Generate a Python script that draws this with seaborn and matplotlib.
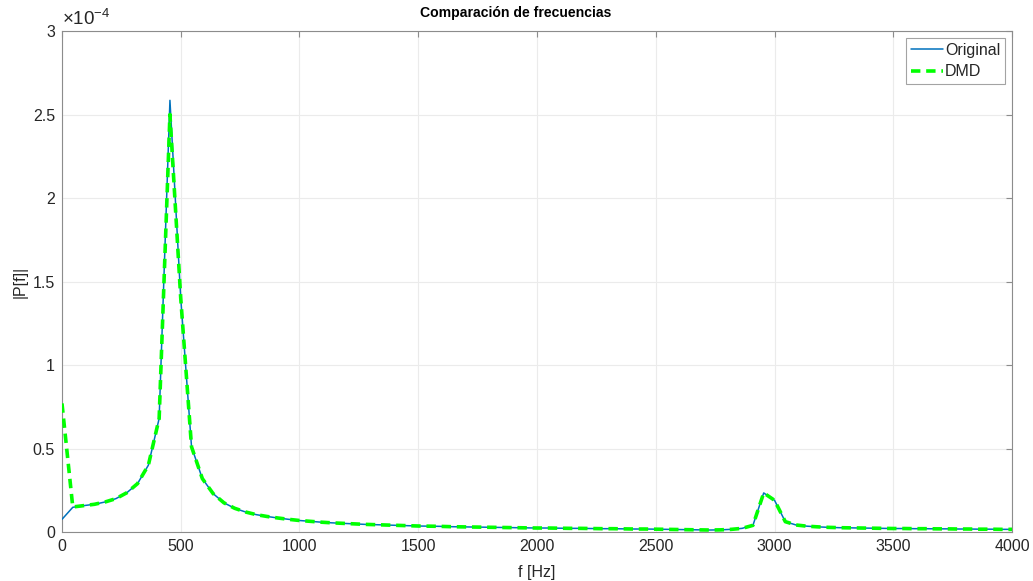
import numpy as np
import pandas as pd
import matplotlib
matplotlib.use("Agg")
import matplotlib.pyplot as plt
from matplotlib.ticker import FuncFormatter, MultipleLocator
import seaborn as sns

# Frequency grid of the spectrum (uniform bins from 0 to 4000 Hz)
freq_hz = np.linspace(0, 4000, 89)

# |P(f)| of the original signal, in units of 1e-4
original = [
    0.076, 0.148, 0.158, 0.166, 0.180, 0.200, 0.235, 0.290, 0.400, 0.680,
    2.585, 1.400, 0.510, 0.320, 0.230, 0.175, 0.142, 0.120, 0.104, 0.093,
    0.084, 0.076, 0.069, 0.064, 0.059, 0.055, 0.052, 0.049, 0.046, 0.044,
    0.042, 0.040, 0.038, 0.036, 0.035, 0.034, 0.032, 0.031, 0.030, 0.029,
    0.028, 0.027, 0.026, 0.025, 0.024, 0.024, 0.023, 0.022, 0.022, 0.021,
    0.020, 0.020, 0.019, 0.018, 0.018, 0.017, 0.016, 0.015, 0.014, 0.013,
    0.012, 0.013, 0.016, 0.022, 0.040, 0.234, 0.190, 0.062, 0.042, 0.035,
    0.031, 0.028, 0.026, 0.025, 0.024, 0.023, 0.022, 0.021, 0.021, 0.020,
    0.020, 0.019, 0.019, 0.018, 0.018, 0.017, 0.017, 0.016, 0.016,
]

# |P(f)| reconstructed with DMD, in units of 1e-4
dmd = [
    0.770, 0.150, 0.158, 0.166, 0.180, 0.200, 0.235, 0.290, 0.400, 0.680,
    2.500, 1.400, 0.510, 0.320, 0.230, 0.175, 0.142, 0.120, 0.104, 0.093,
    0.084, 0.076, 0.069, 0.064, 0.059, 0.055, 0.052, 0.049, 0.046, 0.044,
    0.042, 0.040, 0.038, 0.036, 0.035, 0.034, 0.032, 0.031, 0.030, 0.029,
    0.028, 0.027, 0.026, 0.025, 0.024, 0.024, 0.023, 0.022, 0.022, 0.021,
    0.020, 0.020, 0.019, 0.018, 0.018, 0.017, 0.016, 0.015, 0.014, 0.013,
    0.012, 0.013, 0.016, 0.022, 0.040, 0.234, 0.190, 0.062, 0.042, 0.035,
    0.031, 0.028, 0.026, 0.025, 0.024, 0.023, 0.022, 0.021, 0.021, 0.020,
    0.020, 0.019, 0.019, 0.018, 0.018, 0.017, 0.017, 0.016, 0.016,
]

series_names = ["Original", "DMD"]
SCALE = 1e-4
DASH = (0, (2.6, 1.6))

df = pd.concat([
    pd.DataFrame({"f": freq_hz, "P": np.array(original) * SCALE, "serie": series_names[0]}),
    pd.DataFrame({"f": freq_hz, "P": np.array(dmd) * SCALE, "serie": series_names[1]}),
], ignore_index=True)

sns.set_style("whitegrid")
plt.rcParams["font.family"] = ["Liberation Sans", "DejaVu Sans"]
plt.rcParams["mathtext.default"] = "regular"

fig = plt.figure(figsize=(10.33, 5.81), dpi=100)
ax = fig.add_axes([0.060, 0.0843, 0.9197, 0.8623])

palette = {"Original": "#0072BD", "DMD": "#00FF00"}
sns.lineplot(data=df[df.serie == "Original"], x="f", y="P", ax=ax,
             color=palette["Original"], lw=1.1, label="Original", zorder=3)
sns.lineplot(data=df[df.serie == "DMD"], x="f", y="P", ax=ax,
             color=palette["DMD"], lw=2.6, label="DMD", zorder=4)
for ln in ax.lines:
    if ln.get_label() == "DMD":
        ln.set_linestyle(DASH)

ax.set_xlim(0, 4000)
ax.set_ylim(0, 3e-4)
ax.xaxis.set_major_locator(MultipleLocator(500))
ax.yaxis.set_major_locator(MultipleLocator(0.5e-4))
ax.yaxis.set_major_formatter(FuncFormatter(lambda v, p: f"{v / SCALE:g}"))

ax.grid(True, color="#ebebeb", lw=0.8)
ax.set_axisbelow(True)
for s in ax.spines.values():
    s.set_visible(True)
    s.set_color("#8c8c8c")
    s.set_linewidth(0.8)

ax.tick_params(direction="in", top=True, right=True, length=4, width=0.8,
               color="#8c8c8c", labelsize=11.5, labelcolor="#262626", pad=5)

ax.set_title("Comparación de frecuencias", fontsize=10.1, fontweight="bold",
             color="#000000", pad=10, x=0.478)
ax.set_xlabel("f [Hz]", fontsize=11.5, color="#262626", labelpad=8)
ax.set_ylabel("|P[f]|", fontsize=11.5, color="#262626", labelpad=4)

ax.text(0.0, 1.004, r"$\times10^{-4}$", transform=ax.transAxes, ha="left",
        va="bottom", fontsize=13.5, color="#262626")

leg = ax.legend(loc="upper right", fontsize=11.5, frameon=True, fancybox=False,
                borderpad=0.3, handlelength=2.0, handletextpad=0.1,
                labelspacing=0.4, borderaxespad=0.45)
leg.get_frame().set_edgecolor("#8c8c8c")
leg.get_frame().set_linewidth(0.8)
for h in leg.get_lines():
    if h.get_label() == "DMD":
        h.set_linestyle(DASH)

fig.savefig("out.png", dpi=100, facecolor="white")
